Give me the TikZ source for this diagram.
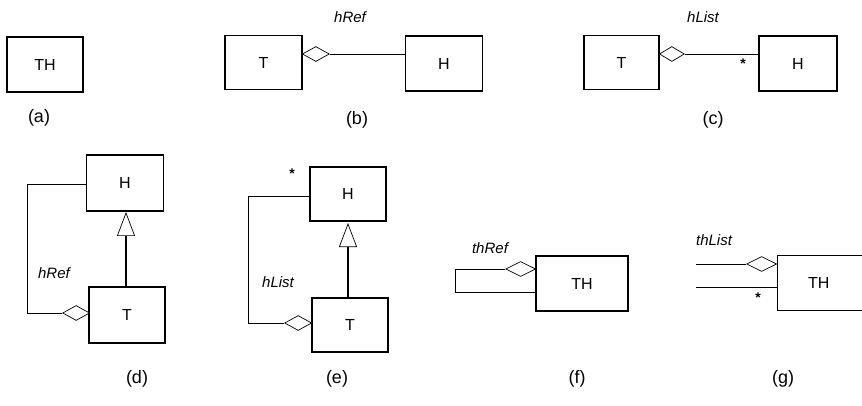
\documentclass[tikz,border=0pt]{standalone}
\usepackage{fontspec}
\setmainfont{Liberation Sans}
\usetikzlibrary{arrows.meta,shapes.geometric}
\begin{document}
\begin{tikzpicture}[x=1pt,y=-1pt,
  cls/.style={draw,line width=1.4pt,minimum width=77pt,minimum height=54pt,inner sep=0pt,font=\fontsize{16}{19}\selectfont},
  agg/.style={draw,diamond,line width=0.7pt,minimum width=27pt,minimum height=15pt,inner sep=0pt,fill=white},
  conn/.style={line width=0.7pt},
  gen/.style={line width=1.4pt,-{Triangle[open,length=24pt,width=18pt,line width=0.7pt]}},
  role/.style={font=\fontsize{15}{17}\selectfont\itshape,inner sep=0pt},
  mult/.style={font=\fontsize{14}{15}\selectfont\bfseries,inner sep=0pt},
  sublabel/.style={font=\fontsize{18}{21}\selectfont,inner sep=0pt}]
\useasboundingbox (0,0) rectangle (862,406);
\clip (0,0) rectangle (862,406);
% (a)
\node[cls,minimum width=76pt,minimum height=55pt] (THa) at (45,64.5) {TH};
\node[sublabel] (la) at (39,118) {(a)};
% (b)
\node[cls] (Tb) at (263.5,62.5) {T};
\node[cls,minimum height=55pt] (Hb) at (444,63.5) {H};
\node[agg,anchor=west] (db) at (302,54) {};
\draw[conn] (db.east) -- (db.east -| Hb.west);
\node[role] (rb) at (350,17) {hRef};
\node[sublabel] (lb) at (357,120) {(b)};
% (c)
\node[cls,minimum width=75pt] (Tc) at (621.5,62.5) {T};
\node[cls,minimum width=78pt,minimum height=55pt] (Hc) at (798,63.5) {H};
\node[agg,anchor=west,minimum width=25pt] (dc) at (659,54) {};
\draw[conn] (dc.east) -- (dc.east -| Hc.west);
\node[mult] (mc) at (743,64) {*};
\node[role] (rc) at (703,17) {hList};
\node[sublabel] (lc) at (713,120) {(c)};
% (d)
\node[cls,minimum height=56pt] (Hd) at (125,183) {H};
\node[cls,minimum width=76pt,minimum height=56pt] (Td) at (127,315) {T};
\draw[gen] (Td.north -| 126,0) -- (126,212);
\node[agg,anchor=east] (dd) at (90,313) {};
\coordinate (cd1) at (27,313);
\coordinate (cd2) at (27,184);
\draw[conn] (dd.west) -- (cd1) -- (cd2) -- (cd2 -| Hd.west);
\node[role] (rd) at (54,273) {hRef};
\node[sublabel] (ld) at (137,379) {(d)};
% (e)
\node[cls,minimum width=76pt] (He) at (348,194) {H};
\node[cls,minimum width=76pt] (Te) at (350,325) {T};
\draw[gen] (Te.north -| 348,0) -- (348,223);
\node[agg,anchor=east] (de) at (312,323) {};
\coordinate (ce1) at (248,323);
\coordinate (ce2) at (248,196);
\draw[conn] (de.west) -- (ce1) -- (ce2) -- (ce2 -| He.west);
\node[mult] (me) at (292,174) {*};
\node[role] (re) at (278,282) {hList};
\node[sublabel] (le) at (337,379) {(e)};
% (f)
\node[cls,minimum width=92pt,minimum height=55pt] (THf) at (582,283.5) {TH};
\node[agg,anchor=east,minimum width=30pt] (df) at (536,269) {};
\coordinate (cf1) at (455,269);
\coordinate (cf2) at (455,292);
\draw[conn] (df.west) -- (cf1) -- (cf2) -- (cf2 -| THf.west);
\node[role] (rf) at (490,248) {thRef};
\node[sublabel] (lf) at (577,379) {(f)};
% (g)
\node[cls,minimum width=92pt,minimum height=55pt,anchor=west] (THg) at (777,283) {\hspace*{-10pt}TH};
\node[agg,anchor=east,minimum width=30pt] (dg) at (777,264) {};
\coordinate (cg1) at (696,264);
\coordinate (cg2) at (696,287);
\draw[conn] (dg.west) -- (cg1);
\draw[conn] (cg2) -- (cg2 -| THg.west);
\node[mult] (mg) at (758,298) {*};
\node[role] (rg) at (714,240) {thList};
\node[sublabel] (lg) at (783,379) {(g)};
\end{tikzpicture}
\end{document}
